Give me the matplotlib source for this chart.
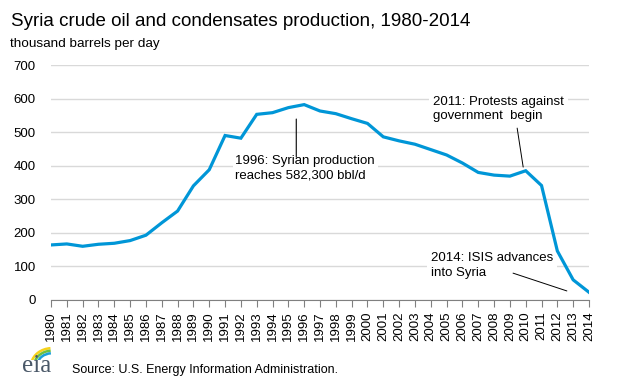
import numpy as np
import matplotlib
matplotlib.use("Agg")
import matplotlib.pyplot as plt
from matplotlib.patches import Arc

plt.rcParams["font.family"] = ["Liberation Sans", "DejaVu Sans"]

years = list(range(1980, 2015))
production = [164, 167, 160, 166, 169, 177, 193, 230, 265, 340, 388, 490, 482,
              553, 558, 573, 582, 563, 555, 540, 526, 486, 474, 464, 448, 432,
              408, 380, 372, 369, 385, 341, 146, 60, 23]
y_ticks = [0, 100, 200, 300, 400, 500, 600, 700]

BLUE = "#0096d7"
GRID = "#d9d9d9"

W, H = 620, 379
fig = plt.figure(figsize=(W / 100, H / 100), dpi=100)
# axes placed in pixel terms: x 51..589, y 65..300 (from top)
ax = fig.add_axes([51 / W, 1 - 300 / H, (589 - 51) / W, (300 - 65) / H])

ax.plot(years, production, color=BLUE, lw=2.3, solid_joinstyle="miter", zorder=4)

ax.set_xlim(1980, 2014)
ax.set_ylim(0, 700)
ax.set_yticks(y_ticks)
ax.set_xticks(years)
ax.set_xticklabels([str(y) for y in years], rotation=90, fontsize=9.5)
ax.tick_params(axis="y", length=0, pad=11, labelsize=9.5)
ax.tick_params(axis="x", length=5, color="#808080", pad=3)
ax.grid(axis="y", color=GRID, lw=1)
ax.set_axisbelow(True)
for s in ["top", "right", "left"]:
    ax.spines[s].set_visible(False)
ax.spines["bottom"].set_color("#808080")

lines = dict(arrowstyle="-", color="black", lw=0.8, shrinkA=0, shrinkB=0)

# 1996 note
ax.text(1991.65, 393, "1996: Syrian production\nreaches 582,300 bbl/d",
        fontsize=9.5, va="center", ha="left", linespacing=1.3, zorder=3,
        bbox=dict(facecolor="white", edgecolor="none", pad=2))
ax.annotate("", xy=(1995.5, 539), xytext=(1995.5, 426), arrowprops=lines)

# 2011 note
ax.text(2004.15, 569, "2011: Protests against\ngovernment  begin",
        fontsize=9.5, va="center", ha="left", linespacing=1.3, zorder=3,
        bbox=dict(facecolor="white", edgecolor="none", pad=3))
ax.annotate("", xy=(2009.84, 396), xytext=(2009.46, 512),
            arrowprops=dict(lines, lw=0.7))

# 2014 note
ax.text(2004.0, 102, "2014: ISIS advances\ninto Syria",
        fontsize=9.5, va="center", ha="left", linespacing=1.3, zorder=3,
        bbox=dict(facecolor="white", edgecolor="none", pad=3))
ax.annotate("", xy=(2012.6, 27), xytext=(2009.2, 80),
            arrowprops=dict(lines, lw=0.7))

fig.text(11 / W, 1 - 22 / H, "Syria crude oil and condensates production, 1980-2014",
         fontsize=13.5, va="center", ha="left")
fig.text(10 / W, 1 - 44 / H, "thousand barrels per day", fontsize=9.7,
         va="center", ha="left")
fig.text(72 / W, 1 - 370 / H, "Source: U.S. Energy Information Administration.",
         fontsize=9, va="center", ha="left")

# eia logo
fig.text(22 / W, 1 - 366 / H, "eia", family="Liberation Serif", fontsize=18,
         color="#4a5868", va="center", ha="left")
lax = fig.add_axes([22 / W, 1 - 360 / H, 32 / W, 15 / H])
lax.set_xlim(0, 32)
lax.set_ylim(0, 15)
lax.axis("off")
for r, c in [(21, "#f5d21b"), (18, "#6cbf3f"), (15, "#1aa0d8")]:
    lax.add_patch(Arc((30, -6), 2 * r, 2 * r * 0.85, theta1=95, theta2=170,
                      color=c, lw=1.8))

fig.savefig("out.png", dpi=100)
